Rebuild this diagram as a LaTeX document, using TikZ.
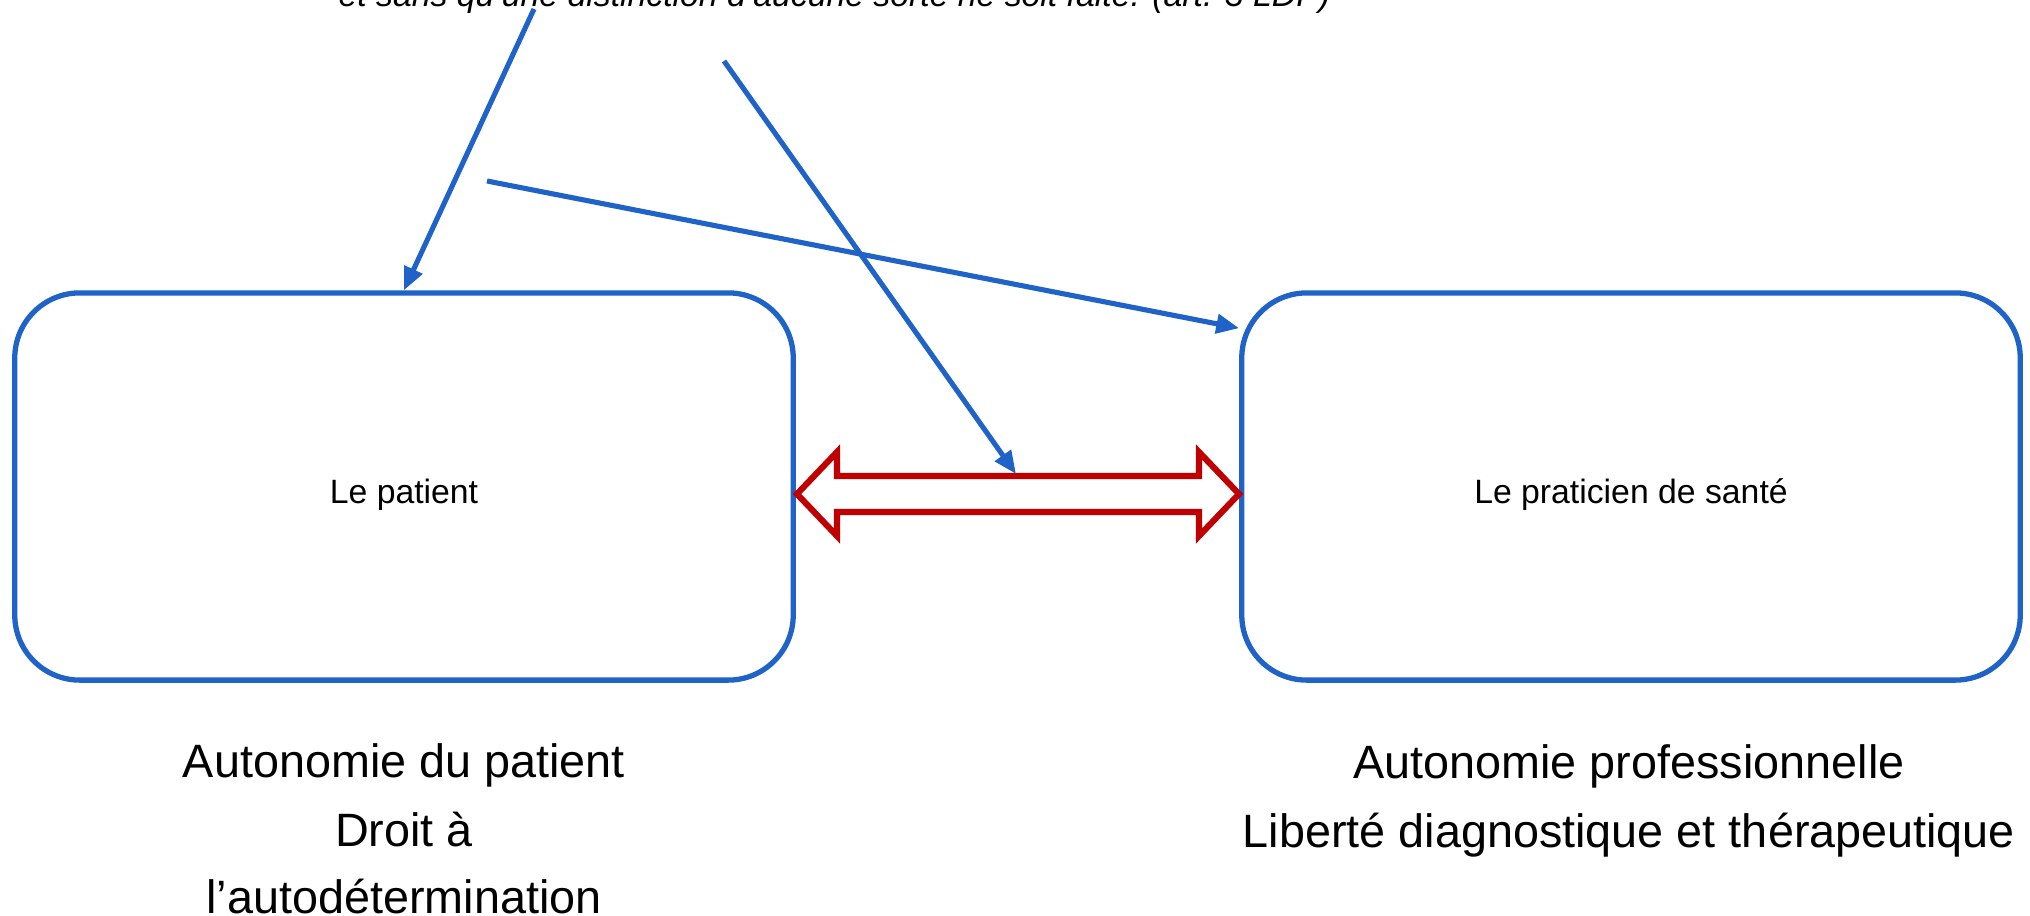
\documentclass[tikz,border=0pt]{standalone}
\usepackage{fontspec}
\setmainfont{Liberation Sans}
\usetikzlibrary{arrows.meta,calc}
\definecolor{bl}{RGB}{31,99,200}
\definecolor{rd}{RGB}{192,0,0}
\tikzset{
  box/.style={draw=bl, line width=1.5pt, rounded corners=0.65cm,
    minimum width=7.78cm, minimum height=3.87cm, inner sep=0pt},
  boxtext/.style={font=\fontsize{9.6}{11.5}\selectfont, anchor=base, inner sep=0pt},
  toptext/.style={font=\fontsize{9.6}{11.5}\selectfont\itshape, anchor=base west, inner sep=0pt},
  captext/.style={font=\fontsize{13.3}{16}\selectfont, anchor=base, inner sep=0pt},
  bluearrow/.style={draw=bl, line width=1.45pt, -{Triangle[length=6.5pt,width=5.4pt]}},
  redarrow/.style={draw=rd, line width=1.75pt, line join=miter, fill=white},
}
\begin{document}
\begin{tikzpicture}[x=0.01cm,y=-0.01cm]
\useasboundingbox (0,0) rectangle (2030,915);
\clip (0,0) rectangle (2030,915);
% boxes
\node[box] (L) at (404,486.5) {};
\node[box] (R) at (1631,486.5) {};
\node[boxtext] (Lt) at (404,503) {Le patient};
\node[boxtext] (Rt) at (1631,503) {Le praticien de santé};
% top text (cut off at the top edge, as in the reference)
\node[toptext] (T) at (338,6) {et sans qu'une distinction d'aucune sorte ne soit faite. (art. 3 LDP)};
% red double arrow
\draw[redarrow] (797,494) -- (837,452) -- (837,476) -- (1199,476) -- (1199,452)
  -- (1239,494) -- (1199,536) -- (1199,512) -- (837,512) -- (837,536) -- cycle;
% blue arrows
\coordinate (s1) at (534,9);
\coordinate (s2) at (724,61);
\coordinate (s3) at (487,181);
\coordinate (e2) at (1016,474);
\draw[bluearrow] (s1) -- (L.north);
\draw[bluearrow] (s2) -- (e2);
\draw[bluearrow] (s3) -- (R.158);
% captions
\node[captext] (c1) at (404,777) {Autonomie du patient};
\node[captext] (c2) at (404,846) {Droit à};
\node[captext] (c3) at (404,913) {l’autodétermination};
\node[captext] (c4) at (1629,778) {Autonomie professionnelle};
\node[captext] (c5) at (1629,847) {Liberté diagnostique et thérapeutique};
\end{tikzpicture}
\end{document}
